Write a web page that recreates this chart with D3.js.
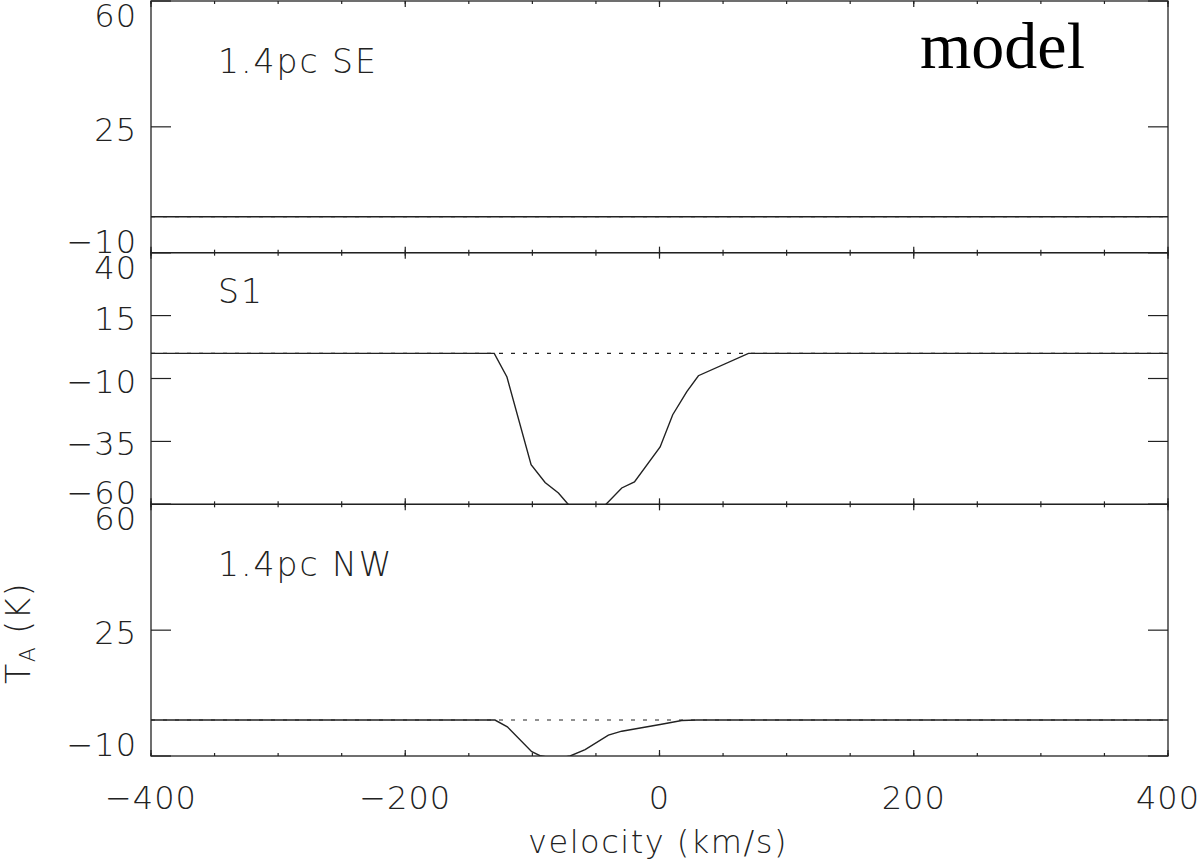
<!DOCTYPE html>
<html>
<head>
<meta charset="utf-8">
<script src="https://cdn.jsdelivr.net/npm/d3@7"></script>
<style>
  body { margin: 0; background: #fff; }
  svg text { font-family: "DejaVu Sans", sans-serif; font-weight: 200; fill: #222; }
</style>
</head>
<body>
<div id="chart"></div>
<script>
// panel names, top to bottom
var panelNames = ["1.4pc SE", "S1", "1.4pc NW"];
var yDomains = [[-10, 60], [-60, 40], [-10, 60]];
var yTicks = [[-10, 25, 60], [-60, -35, -10, 15, 40], [-10, 25, 60]];

// spectra (velocity km/s, T_A K)
var velSE = [-400, 400];
var tempSE = [0, 0];

var velS1 = [-400, -130, -120, -101, -90, -79.5, -72.4, -65, -48, -41.5, -29.7, -19.7, 0.5, 10.4, 21.5, 30.6, 70, 400];
var tempS1 = [0, 0, -9.4, -44.2, -51.3, -55.5, -59.7, -63, -63, -59.7, -53.5, -51.1, -37.2, -24.4, -15.2, -8.9, 0, 0];

var velNW = [-400, -129.4, -119.7, -100.5, -94, -88, -75, -70.3, -58.5, -40.2, -29.7, 0.5, 17.5, 29.3, 400];
var tempNW = [0, 0, -1.9, -8.8, -9.9, -10.3, -10.3, -10, -8.2, -4.2, -3.1, -1.25, -0.14, 0, 0];

var spectra = [
  {v: velSE, t: tempSE},
  {v: velS1, t: tempS1},
  {v: velNW, t: tempNW}
];

var xMajor = [-400, -200, 0, 200, 400];
var xMinor = d3.range(-400, 401, 50);

var width = 1200, height = 865;
var plot = {left: 151, right: 1168, top: 1, bottom: 756};
var panelH = (plot.bottom - plot.top) / 3;
var ink = "#222";

var svg = d3.select("#chart").append("svg")
    .attr("width", width)
    .attr("height", height);

var x = d3.scaleLinear().domain([-400, 400]).range([plot.left, plot.right]);

function fmt(d) {
  return d < 0 ? "\u2212" + Math.abs(d) : String(d);
}

panelNames.forEach(function (name, i) {
  var y0 = plot.top + i * panelH, y1 = y0 + panelH;
  var y = d3.scaleLinear().domain(yDomains[i]).range([y1, y0]);
  var dom = yDomains[i];
  var g = svg.append("g");

  g.append("clipPath").attr("id", "clip" + i)
    .append("rect")
    .attr("x", plot.left).attr("y", y0)
    .attr("width", plot.right - plot.left).attr("height", panelH);

  // dotted zero baseline
  g.append("line")
    .attr("x1", plot.left).attr("x2", plot.right)
    .attr("y1", y(0)).attr("y2", y(0))
    .attr("stroke", ink)
    .attr("stroke-width", 1.1)
    .attr("stroke-dasharray", "4,8");

  // spectrum
  var pts = spectra[i].v.map(function (v, k) { return [v, spectra[i].t[k]]; });
  g.append("path")
    .datum(pts)
    .attr("clip-path", "url(#clip" + i + ")")
    .attr("fill", "none")
    .attr("stroke", ink)
    .attr("stroke-width", 1.4)
    .attr("d", d3.line().x(function (d) { return x(d[0]); }).y(function (d) { return y(d[1]); }));

  // frame
  g.append("rect")
    .attr("x", plot.left).attr("y", y0)
    .attr("width", plot.right - plot.left).attr("height", panelH)
    .attr("fill", "none")
    .attr("stroke", ink)
    .attr("stroke-width", 1.3);

  // x ticks, inside, on top and bottom edges
  [xMinor, xMajor].forEach(function (vals, m) {
    var len = m ? 6 : 3;
    g.selectAll(null).data(vals).enter().append("line")
      .attr("x1", x).attr("x2", x)
      .attr("y1", y1).attr("y2", y1 - len)
      .attr("stroke", ink).attr("stroke-width", 1.2);
    g.selectAll(null).data(vals).enter().append("line")
      .attr("x1", x).attr("x2", x)
      .attr("y1", y0).attr("y2", y0 + len)
      .attr("stroke", ink).attr("stroke-width", 1.2);
  });

  // y ticks on both sides
  g.selectAll(null).data(yTicks[i]).enter().append("line")
    .attr("x1", plot.left).attr("x2", plot.left + 20)
    .attr("y1", y).attr("y2", y)
    .attr("stroke", ink).attr("stroke-width", 1.2);
  g.selectAll(null).data(yTicks[i]).enter().append("line")
    .attr("x1", plot.right).attr("x2", plot.right - 20)
    .attr("y1", y).attr("y2", y)
    .attr("stroke", ink).attr("stroke-width", 1.2);

  // end labels are kept inside their panel
  g.selectAll(null).data(yTicks[i]).enter().append("text")
    .attr("x", 137)
    .attr("y", function (d) {
      if (d === dom[1]) return y(d) + 26;
      if (d === dom[0]) return y(d);
      return y(d) + 14;
    })
    .attr("text-anchor", "end")
    .attr("font-size", 32)
    .attr("letter-spacing", 1)
    .text(fmt);

  // panel label
  g.append("text")
    .attr("x", 218)
    .attr("y", y0 + (i === 1 ? 50 : 72))
    .attr("font-size", 33)
    .attr("letter-spacing", 2)
    .text(name);
});

// bottom axis labels
svg.selectAll(".xlab").data(xMajor).enter().append("text")
  .attr("class", "xlab")
  .attr("x", x)
  .attr("y", 809)
  .attr("text-anchor", "middle")
  .attr("font-size", 32)
  .attr("letter-spacing", 1)
  .text(fmt);

svg.append("text")
  .attr("x", 658)
  .attr("y", 853)
  .attr("text-anchor", "middle")
  .attr("font-size", 32)
  .attr("letter-spacing", 1.5)
  .text("velocity (km/s)");

// y axis title
var yt = svg.append("text")
  .attr("transform", "translate(30,684) rotate(-90)")
  .attr("font-size", 33)
  .attr("letter-spacing", 1.5);
yt.append("tspan").text("T");
yt.append("tspan").attr("font-size", 22).attr("dy", 5).text("A");
yt.append("tspan").attr("dy", -5).text(" (K)");

// "model" tag
svg.append("text")
  .attr("x", 920)
  .attr("y", 68)
  .style("font-family", "'Liberation Serif', serif")
  .style("font-weight", 400)
  .style("fill", "#000")
  .attr("font-size", 66)
  .text("model");
</script>
</body>
</html>
